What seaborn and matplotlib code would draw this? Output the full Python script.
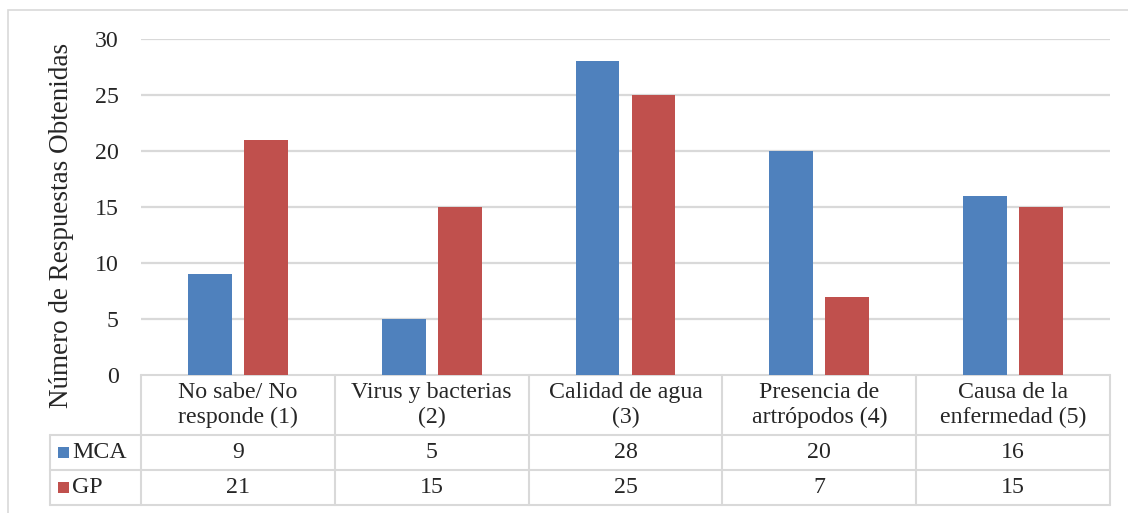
import matplotlib
matplotlib.use("Agg")
import matplotlib.pyplot as plt
import seaborn as sns
import pandas as pd
from matplotlib.patches import Rectangle
from matplotlib.transforms import blended_transform_factory

categories = ["No sabe/ No\nresponde (1)", "Virus y bacterias\n(2)", "Calidad de agua\n(3)",
              "Presencia de\nartrópodos (4)", "Causa de la\nenfermedad (5)"]
series_names = ["MCA", "GP"]
mca_values = [9, 5, 28, 20, 16]
gp_values = [21, 15, 25, 7, 15]
y_ticks = [0, 5, 10, 15, 20, 25, 30]
y_label = "Número de Respuestas Obtenidas"

colors = {"MCA": "#4F81BD", "GP": "#C0504D"}
grid_color = "#D9D9D9"
font = "Liberation Serif"
fs = 17.2

sns.set_theme(style="white")
plt.rcParams["font.family"] = [font, "DejaVu Serif"]

df = pd.DataFrame({
    "cat": categories * 2,
    "serie": ["MCA"] * len(categories) + ["GP"] * len(categories),
    "valor": mca_values + gp_values,
})

W, H = 1128, 513
fig = plt.figure(figsize=(W / 100, H / 100), dpi=100)
ax = fig.add_axes([141 / W, 1 - 375 / H, (1110 - 141) / W, (375 - 39) / H])

sns.barplot(data=df, x="cat", y="valor", hue="serie", order=categories,
            hue_order=series_names, palette=colors, width=0.578, gap=0.215,
            saturation=1, legend=False, ax=ax, zorder=3, linewidth=0,
            edgecolor="none")

ax.set_ylim(0, 30)
ax.set_xlim(-0.5, len(categories) - 0.5)
ax.set_yticks(y_ticks)
ax.set_yticklabels([str(t) for t in y_ticks], fontsize=fs)
ax.tick_params(axis="y", length=0, pad=16)
ax.set_xticks([])
ax.set_xlabel("")
ax.set_ylabel("")
for s in ax.spines.values():
    s.set_visible(False)
for t in y_ticks[1:]:
    ax.axhline(t, color=grid_color, lw=1.6, zorder=1)

fig.text(62 / W, 1 - 225 / H, y_label, rotation=90, ha="center", va="center",
         fontsize=19.5)

# data table below the plot
tr = blended_transform_factory(ax.transData, ax.transAxes)
px = 1 / (375 - 39)
n = len(categories)
cat_px = (1110 - 141) / n
y_top = 0.0
y_hdr = -(435 - 375) * px
y_r1 = -(470 - 375) * px
y_r2 = -(505 - 375) * px
x_leg = -0.5 - 91 / cat_px
kw = dict(color=grid_color, lw=1.5, transform=tr, clip_on=False, zorder=2)
ax.plot([-0.5, n - 0.5], [y_top, y_top], **kw)
for yy in (y_hdr, y_r1, y_r2):
    ax.plot([x_leg, n - 0.5], [yy, yy], **kw)
for i in range(n + 1):
    ax.plot([i - 0.5, i - 0.5], [y_top, y_r2], **kw)
ax.plot([x_leg, x_leg], [y_hdr, y_r2], **kw)

for i, c in enumerate(categories):
    ax.text(i, (y_top + y_hdr) / 2, c, ha="center", va="center", fontsize=fs,
            transform=tr, linespacing=1.2)
    ax.text(i, (y_hdr + y_r1) / 2, str(mca_values[i]), ha="center", va="center",
            fontsize=fs, transform=tr)
    ax.text(i, (y_r1 + y_r2) / 2, str(gp_values[i]), ha="center", va="center",
            fontsize=fs, transform=tr)

for name, (ya, yb) in zip(series_names, [(y_hdr, y_r1), (y_r1, y_r2)]):
    ym = (ya + yb) / 2
    xs = x_leg + 8 / cat_px
    ax.add_patch(Rectangle((xs, ym - 5.5 * px), 11 / cat_px, 11 * px,
                           facecolor=colors[name], edgecolor="none",
                           transform=tr, clip_on=False))
    ax.text(xs + 14 / cat_px, ym, name, ha="left", va="center",
            fontsize=fs, transform=tr)

# chart frame
fig.patches.append(Rectangle((8 / W, -0.1), 1.2, 1 - 10 / H + 0.1,
                             transform=fig.transFigure, fill=False,
                             edgecolor=grid_color, lw=1.2))

fig.savefig("out.png", dpi=100, facecolor="white")
